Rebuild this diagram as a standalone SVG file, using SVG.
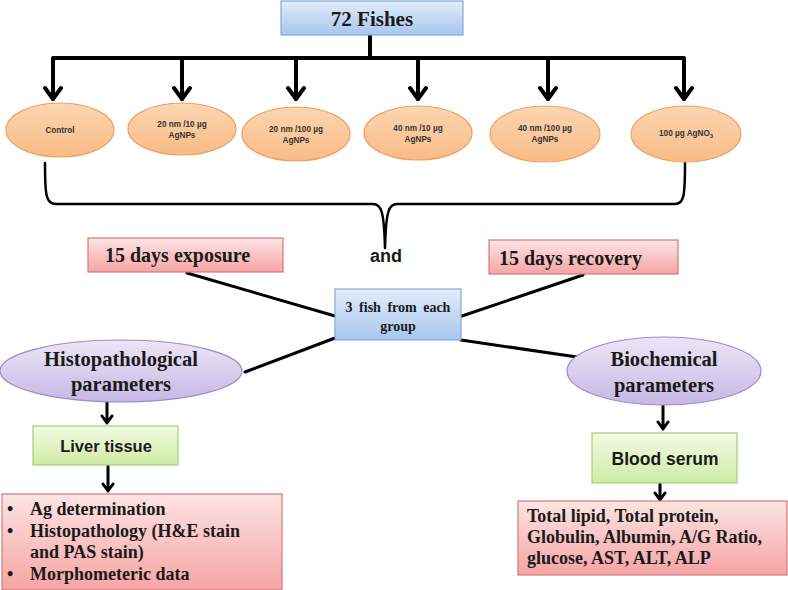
<svg xmlns="http://www.w3.org/2000/svg" width="788" height="590" viewBox="0 0 788 590">
<defs>
<linearGradient id="gBlue" x1="0" y1="0" x2="0" y2="1"><stop offset="0" stop-color="#e2ecfa"/><stop offset="1" stop-color="#a8c6ef"/></linearGradient>
<linearGradient id="gOrange" x1="0" y1="0" x2="0" y2="1"><stop offset="0" stop-color="#fcd6b2"/><stop offset="1" stop-color="#f8bb86"/></linearGradient>
<linearGradient id="gPink" x1="0" y1="0" x2="0" y2="1"><stop offset="0" stop-color="#fde4e4"/><stop offset="1" stop-color="#f6a4a4"/></linearGradient>
<linearGradient id="gPurple" x1="0" y1="0" x2="0" y2="1"><stop offset="0" stop-color="#ece6f6"/><stop offset="1" stop-color="#c6b8e4"/></linearGradient>
<linearGradient id="gGreen" x1="0" y1="0" x2="0" y2="1"><stop offset="0" stop-color="#f4fbe2"/><stop offset="1" stop-color="#cdeba6"/></linearGradient>
</defs>
<style>
.blue{fill:url(#gBlue);stroke:#86a8d6;stroke-width:1.2}
.orange{fill:url(#gOrange);stroke:#eea060;stroke-width:1.2}
.pink{fill:url(#gPink);stroke:#d47a7a;stroke-width:1.2}
.purple{fill:url(#gPurple);stroke:#9c8cc8;stroke-width:1.2}
.green{fill:url(#gGreen);stroke:#a8cc7a;stroke-width:1.2}
.serif{font-family:"Liberation Serif","Times New Roman",serif;font-weight:bold;fill:#1a1a1a}
.sans{font-family:"Liberation Sans",Arial,sans-serif;font-weight:bold;fill:#1a1a1a}
.small{font-family:"Liberation Sans",Arial,sans-serif;font-weight:bold;font-size:8.2px;fill:#333;text-anchor:middle}
.ln{fill:none;stroke:#000;stroke-linecap:round;stroke-linejoin:round}
</style>

<g id="connectors">
  <path class="ln" stroke-width="4" d="M370,35 V58 M53,58 H684 M53,58 V99 M182,58 V99 M296,58 V99 M418,58 V99 M548,58 V99 M684,58 V99"/>
  <path class="ln" stroke-width="4" d="M45,88 L53,99 L61,88 M174,88 L182,99 L190,88 M288,88 L296,99 L304,88 M410,88 L418,99 L426,88 M540,88 L548,99 L556,88 M676,88 L684,99 L692,88"/>
  <path class="ln" stroke-width="2.5" d="M45,163 C45,196 46,204 56,204 L373,204 C381,204 384,210 385,248 C386,210 389,204 397,204 L675,204 C684,204 685,196 685,163"/>
  <path class="ln" stroke-width="3" d="M187,273 L335,316 M583,275 L462,316 M335,338 L245,372 M461,340 L577,357"/>
  <path class="ln" stroke-width="3" d="M107,402 V423 M102,416 L107,423 L112,416 M108,466 V491 M103,484 L108,491 L113,484 M663,406 V429 M658,422 L663,429 L668,422 M660,483 V500 M655,493 L660,500 L665,493"/>
</g>

<g id="fishes">
  <rect class="blue" x="281" y="1" width="182" height="34"/>
  <text class="serif" x="372" y="26" font-size="21" text-anchor="middle">72 Fishes</text>
</g>

<g id="control">
  <ellipse class="orange" cx="60" cy="130" rx="54" ry="27"/>
  <text class="small" x="60" y="133">Control</text>
</g>
<g id="g20-10">
  <ellipse class="orange" cx="182" cy="129" rx="54" ry="26"/>
  <text class="small" x="182" y="127">20 nm /10 µg</text>
  <text class="small" x="182" y="138">AgNPs</text>
</g>
<g id="g20-100">
  <ellipse class="orange" cx="296" cy="134" rx="54" ry="27"/>
  <text class="small" x="296" y="132">20 nm /100 µg</text>
  <text class="small" x="296" y="143">AgNPs</text>
</g>
<g id="g40-10">
  <ellipse class="orange" cx="418" cy="133" rx="54" ry="27"/>
  <text class="small" x="418" y="131">40 nm /10 µg</text>
  <text class="small" x="418" y="142">AgNPs</text>
</g>
<g id="g40-100">
  <ellipse class="orange" cx="545" cy="134" rx="55" ry="28"/>
  <text class="small" x="545" y="131">40 nm /100 µg</text>
  <text class="small" x="545" y="142">AgNPs</text>
</g>
<g id="agno3">
  <ellipse class="orange" cx="686" cy="134" rx="55" ry="28"/>
  <text class="small" x="686" y="136">100 µg AgNO<tspan font-size="5.5" dy="2">3</tspan></text>
</g>

<g id="and">
  <text class="sans" x="386" y="262" font-size="18" text-anchor="middle">and</text>
</g>

<g id="exposure">
  <rect class="pink" x="88" y="238" width="195" height="34"/>
  <text class="serif" x="105" y="262" font-size="20">15 days exposure</text>
</g>
<g id="recovery">
  <rect class="pink" x="489" y="240" width="189" height="34"/>
  <text class="serif" x="499" y="265" font-size="20">15 days recovery</text>
</g>

<g id="threefish">
  <rect class="blue" x="335" y="289" width="126" height="51"/>
  <text class="serif" x="398" y="312" font-size="14" text-anchor="middle" word-spacing="3">3 fish from each</text>
  <text class="serif" x="398" y="331" font-size="14" text-anchor="middle">group</text>
</g>

<g id="histo">
  <ellipse class="purple" cx="121" cy="371" rx="121" ry="31"/>
  <text class="serif" x="121" y="366" font-size="20.5" text-anchor="middle">Histopathological</text>
  <text class="serif" x="121" y="391" font-size="20.5" text-anchor="middle">parameters</text>
</g>
<g id="biochem">
  <ellipse class="purple" cx="664" cy="371" rx="97" ry="34"/>
  <text class="serif" x="664" y="366" font-size="20.5" text-anchor="middle">Biochemical</text>
  <text class="serif" x="664" y="392" font-size="20.5" text-anchor="middle">parameters</text>
</g>

<g id="liver">
  <rect class="green" x="33" y="426" width="145" height="39"/>
  <text class="sans" x="106" y="452" font-size="16.5" text-anchor="middle">Liver tissue</text>
</g>
<g id="blood">
  <rect class="green" x="592" y="433" width="145" height="50"/>
  <text class="sans" x="665" y="465" font-size="17.5" text-anchor="middle">Blood serum</text>
</g>

<g id="liverresults">
  <rect class="pink" x="2" y="494" width="280" height="96"/>
  <g class="serif" font-size="18">
    <text x="7" y="515">•</text><text x="30" y="515">Ag determination</text>
    <text x="7" y="537">•</text><text x="30" y="537">Histopathology (H&amp;E stain</text>
    <text x="30" y="558">and PAS stain)</text>
    <text x="7" y="580">•</text><text x="30" y="580">Morphometeric data</text>
  </g>
</g>
<g id="serumresults">
  <rect class="pink" x="518" y="501" width="269" height="74"/>
  <g class="serif" font-size="18">
    <text x="527" y="522">Total lipid, Total protein,</text>
    <text x="527" y="543">Globulin, Albumin, A/G Ratio,</text>
    <text x="527" y="564">glucose, AST, ALT, ALP</text>
  </g>
</g>
</svg>
